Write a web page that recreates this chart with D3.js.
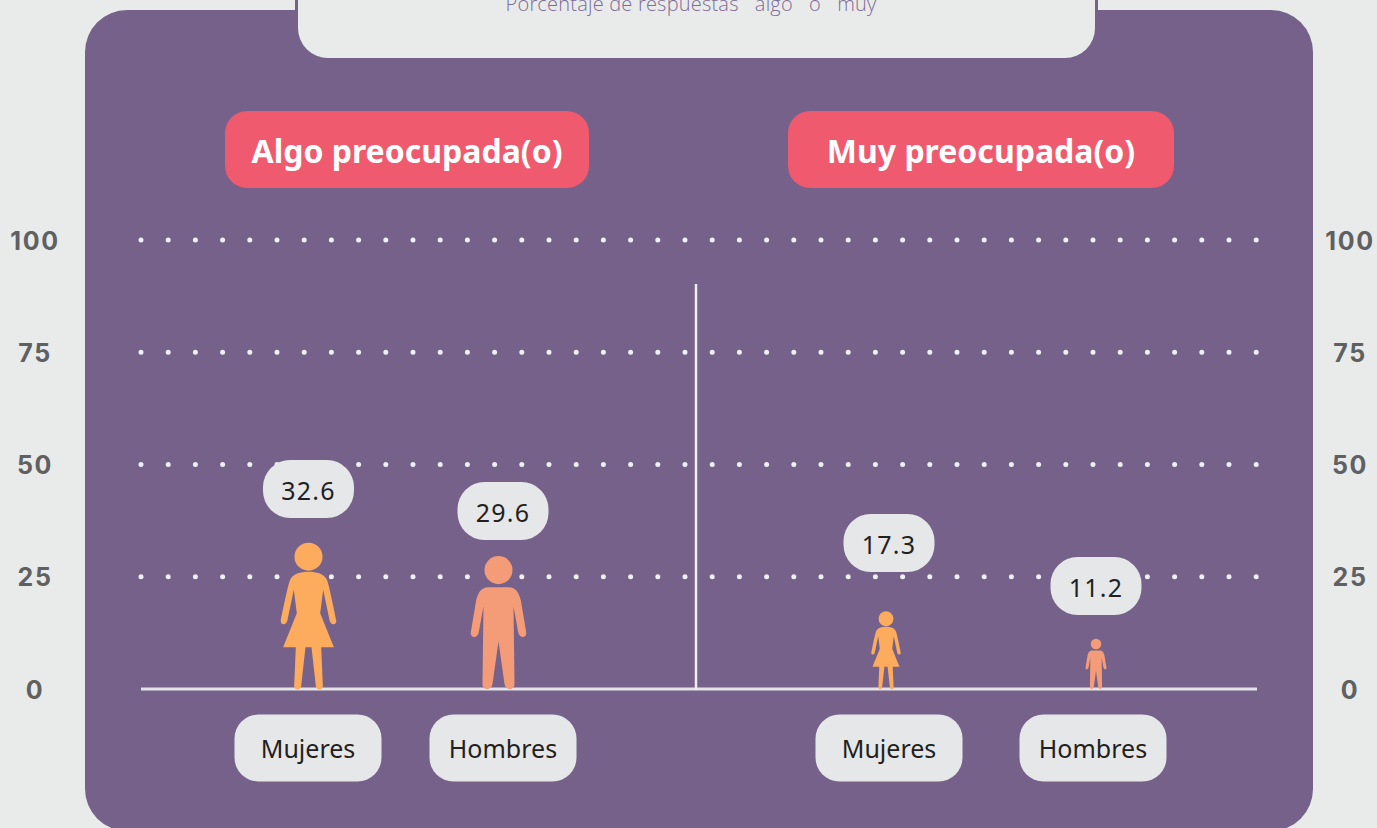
<!DOCTYPE html>
<html><head><meta charset="utf-8">
<script src="https://cdn.jsdelivr.net/npm/d3@7"></script>
<style>html,body{margin:0;padding:0;background:#e9ebea;overflow:hidden}svg{display:block}</style>
</head><body><svg id="c" width="1377" height="828"></svg>
<script>
const subtitle = "Porcentaje de respuestas   algo   o   muy";
const groups = ["Algo preocupada(o)", "Muy preocupada(o)"];
const categories = ["Mujeres", "Hombres", "Mujeres", "Hombres"];
const sexes = ["f", "m", "f", "m"];
const values = [32.6, 29.6, 17.3, 11.2];
const tickValues = [0, 25, 50, 75, 100];

const BG="#e9ebea", PURPLE="#75618a", RED="#ef5a6e", PILL="#e6e7e8", WOMAN="#fdab5c", MAN="#f49b78";
const svg = d3.select("#c");
const y = d3.scaleLinear().domain([0,100]).range([689,240]);

// layout
const figureX=[308.5,498.5,886,1096], bubbleX=[308.5,503,889,1096], bubbleY=[489,511,543,586], labelX=[308,503,889,1093];
const headerBoxes=[[225,589],[788,1174]];

// background panel
[296.5,1096.5].forEach(x=>svg.append("line").attr("x1",x).attr("x2",x).attr("y1",0).attr("y2",12).attr("stroke",PURPLE).attr("stroke-width",3));
svg.append("rect").attr("x",85).attr("y",10).attr("width",1228).attr("height",821).attr("rx",42).attr("fill",PURPLE);
svg.append("rect").attr("x",298).attr("y",-60).attr("width",797).attr("height",118).attr("rx",30).attr("fill",BG);
svg.append("text").attr("x",691).attr("y",11).attr("text-anchor","middle")
  .attr("font-family","'Open Sans'").attr("font-weight",300).attr("font-size",20).attr("letter-spacing",0.2).attr("fill","#7d6c96")
  .style("white-space","pre").text(subtitle);

// axis labels on both sides
[35,1350].forEach(x=>{
  svg.append("g").attr("transform",`translate(${x},0)`).selectAll("text").data(tickValues).join("text")
   .attr("y",d=>y(d)+9.5).attr("text-anchor","middle")
   .attr("font-family","Inter").attr("font-weight",700).attr("font-size",25).attr("letter-spacing",1.6).attr("fill","#5f6062").text(d=>d);
});

// dotted gridlines
svg.append("g").selectAll("line").data(tickValues.filter(d=>d>0)).join("line")
  .attr("x1",141).attr("x2",1262).attr("y1",d=>y(d)).attr("y2",d=>y(d))
  .attr("stroke","#f0f0f3").attr("stroke-width",5).attr("stroke-linecap","round").attr("stroke-dasharray","0 27.2");

// axis + divider
svg.append("line").attr("x1",141).attr("x2",1257).attr("y1",y(0)).attr("y2",y(0)).attr("stroke","#e4e3e8").attr("stroke-width",3);
svg.append("line").attr("x1",696).attr("x2",696).attr("y1",284).attr("y2",y(0)).attr("stroke","#eeeef0").attr("stroke-width",2.5);

// headers
const hdr=svg.append("g").selectAll("g").data(groups).join("g");
hdr.append("rect").attr("x",(d,i)=>headerBoxes[i][0]).attr("y",111).attr("width",(d,i)=>headerBoxes[i][1]-headerBoxes[i][0]).attr("height",77).attr("rx",22).attr("fill",RED);
hdr.append("text").attr("x",(d,i)=>(headerBoxes[i][0]+headerBoxes[i][1])/2).attr("y",163).attr("text-anchor","middle")
  .attr("font-family","'Noto Sans'").attr("font-weight",700).attr("font-size",32).attr("fill","#fff").text(d=>d);

// pictogram glyphs, drawn in a local unit box (feet at y=0, top of head at y=-h)
const womanH=438, manH=398;
const womanBody="M0,-351 C24,-351 48,-345 56,-325 C64,-300 78,-230 83,-206 C85,-190 66,-190 63,-206 L44,-297 L35,-227 L76,-125 L38,-125 L43,-8 C42,5 24,5 22,-8 L9,-125 L-9,-125 L-22,-8 C-24,5 -42,5 -43,-8 L-38,-125 L-76,-125 L-35,-227 L-44,-297 L-63,-206 C-66,-190 -85,-190 -83,-206 C-78,-230 -64,-300 -56,-325 C-48,-345 -24,-351 0,-351 Z";
const manBody="M-30,-305 L30,-305 C55,-305 62,-285 67,-265 L83,-170 C86,-152 62,-150 59,-170 L45,-247 L48,-15 C48,5 20,5 18,-15 L0,-142 L-18,-15 C-20,5 -48,5 -48,-15 L-45,-247 L-59,-170 C-62,-150 -86,-152 -83,-170 L-67,-265 C-62,-285 -55,-305 -30,-305 Z";

const figs=svg.append("g").selectAll("g").data(values).join("g")
  .attr("transform",(d,i)=>{const h=sexes[i]==="f"?womanH:manH; return `translate(${figureX[i]},${y(0)}) scale(${(y(0)-y(d))/h})`;})
  .attr("fill",(d,i)=>sexes[i]==="f"?WOMAN:MAN);
figs.append("circle").attr("cx",0).attr("cy",(d,i)=>sexes[i]==="f"?-396:-356).attr("r",42);
figs.append("path").attr("d",(d,i)=>sexes[i]==="f"?womanBody:manBody);

// value bubbles
const bub=svg.append("g").selectAll("g").data(values).join("g").attr("transform",(d,i)=>`translate(${bubbleX[i]},${bubbleY[i]})`);
bub.append("rect").attr("x",-45.5).attr("y",-29).attr("width",91).attr("height",58).attr("rx",27).attr("fill",PILL);
bub.append("text").attr("y",10.5).attr("text-anchor","middle").attr("font-family","'Noto Sans'").attr("font-size",25).attr("letter-spacing",1.2).attr("fill","#231f20").text(d=>d.toFixed(1));

// category pills
const cat=svg.append("g").selectAll("g").data(categories).join("g").attr("transform",(d,i)=>`translate(${labelX[i]},748)`);
cat.append("rect").attr("x",-73.5).attr("y",-33.5).attr("width",147).attr("height",67).attr("rx",24).attr("fill",PILL);
cat.append("text").attr("y",10).attr("text-anchor","middle").attr("font-family","'Noto Sans'").attr("font-size",25).attr("fill","#231f20").text(d=>d);
</script></body></html>
